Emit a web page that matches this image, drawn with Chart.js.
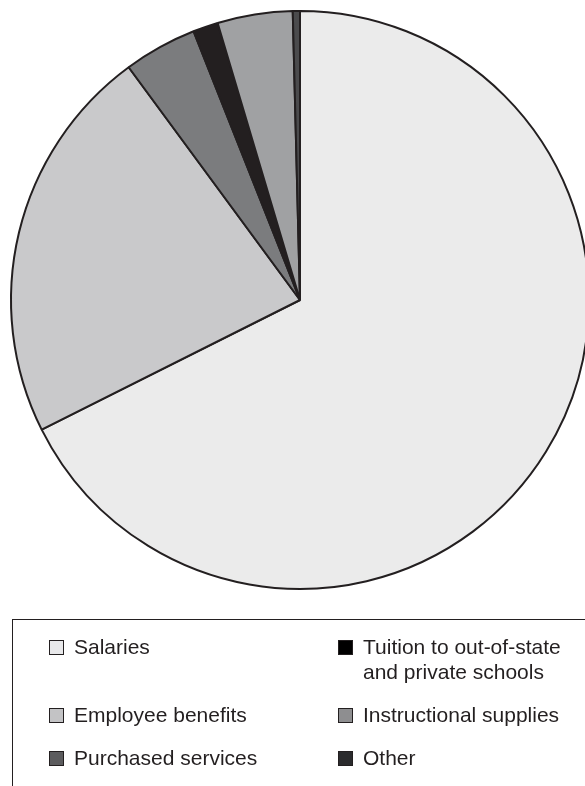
<!doctype html>
<html>
<head>
    <title>Expenditures</title>
    <script src="https://cdn.jsdelivr.net/npm/chart.js"></script>
    <style>
        html, body { margin: 0; padding: 0; background: #fff; overflow: hidden; }
        body { width: 585px; height: 786px; position: relative; font-family: "Liberation Sans", Arial, sans-serif; }
        .pie { position: absolute; left: 0; top: 0; width: 620px; height: 620px; }
        .legenda {
            position: absolute; left: 12px; top: 619px; width: 600px; height: 200px;
            border-left: 1.5px solid #231f20; border-top: 1.5px solid #231f20;
        }
        .itens {
            position: absolute; left: 36px; top: 14px;
            display: grid; grid-auto-flow: column;
            grid-template-columns: 289px 240px;
            grid-template-rows: 68px 43px 43px;
        }
        .item { display: flex; align-items: flex-start; font-size: 21px; line-height: 25px; color: #231f20; }
        .quadrado { width: 13px; height: 13px; border: 1px solid #231f20; margin-top: 6px; margin-right: 10px; flex: none; }
    </style>
</head>
<body>
    <div class="pie"><canvas id="pizza"></canvas></div>
    <div class="legenda"><div class="itens" id="itens"></div></div>

    <script>
        var categorias = ['Salaries', 'Employee benefits', 'Purchased services',
            'Tuition to out-of-state\nand private schools', 'Instructional supplies', 'Other'];
        var valores = [67.6, 22.3, 4.1, 1.4, 4.2, 0.4];
        var cores = ['#ebebeb', '#c9c9cb', '#7b7c7e', '#231f20', '#a0a1a3', '#4b4b4d'];
        var coresLegenda = ['#e8e8ea', '#c3c3c5', '#5c5c5e', '#000000', '#8e8e90', '#2b2b2d'];

        new Chart(document.getElementById('pizza').getContext('2d'), {
            type: 'pie',
            data: {
                labels: categorias,
                datasets: [{
                    data: valores,
                    backgroundColor: cores,
                    borderColor: '#231f20',
                    borderWidth: 2
                }]
            },
            options: {
                responsive: true,
                maintainAspectRatio: false,
                animation: false,
                layout: { padding: { left: 10, top: 10, right: 30, bottom: 30 } },
                plugins: {
                    legend: { display: false },
                    tooltip: { enabled: false }
                }
            }
        });

        // legenda em duas colunas
        var itens = document.getElementById('itens');
        categorias.forEach(function (nome, i) {
            var item = document.createElement('div');
            item.className = 'item';
            var q = document.createElement('span');
            q.className = 'quadrado';
            q.style.background = coresLegenda[i];
            var t = document.createElement('span');
            t.innerHTML = nome.replace('\n', '<br>');
            item.appendChild(q);
            item.appendChild(t);
            itens.appendChild(item);
        });
    </script>
</body>
</html>
